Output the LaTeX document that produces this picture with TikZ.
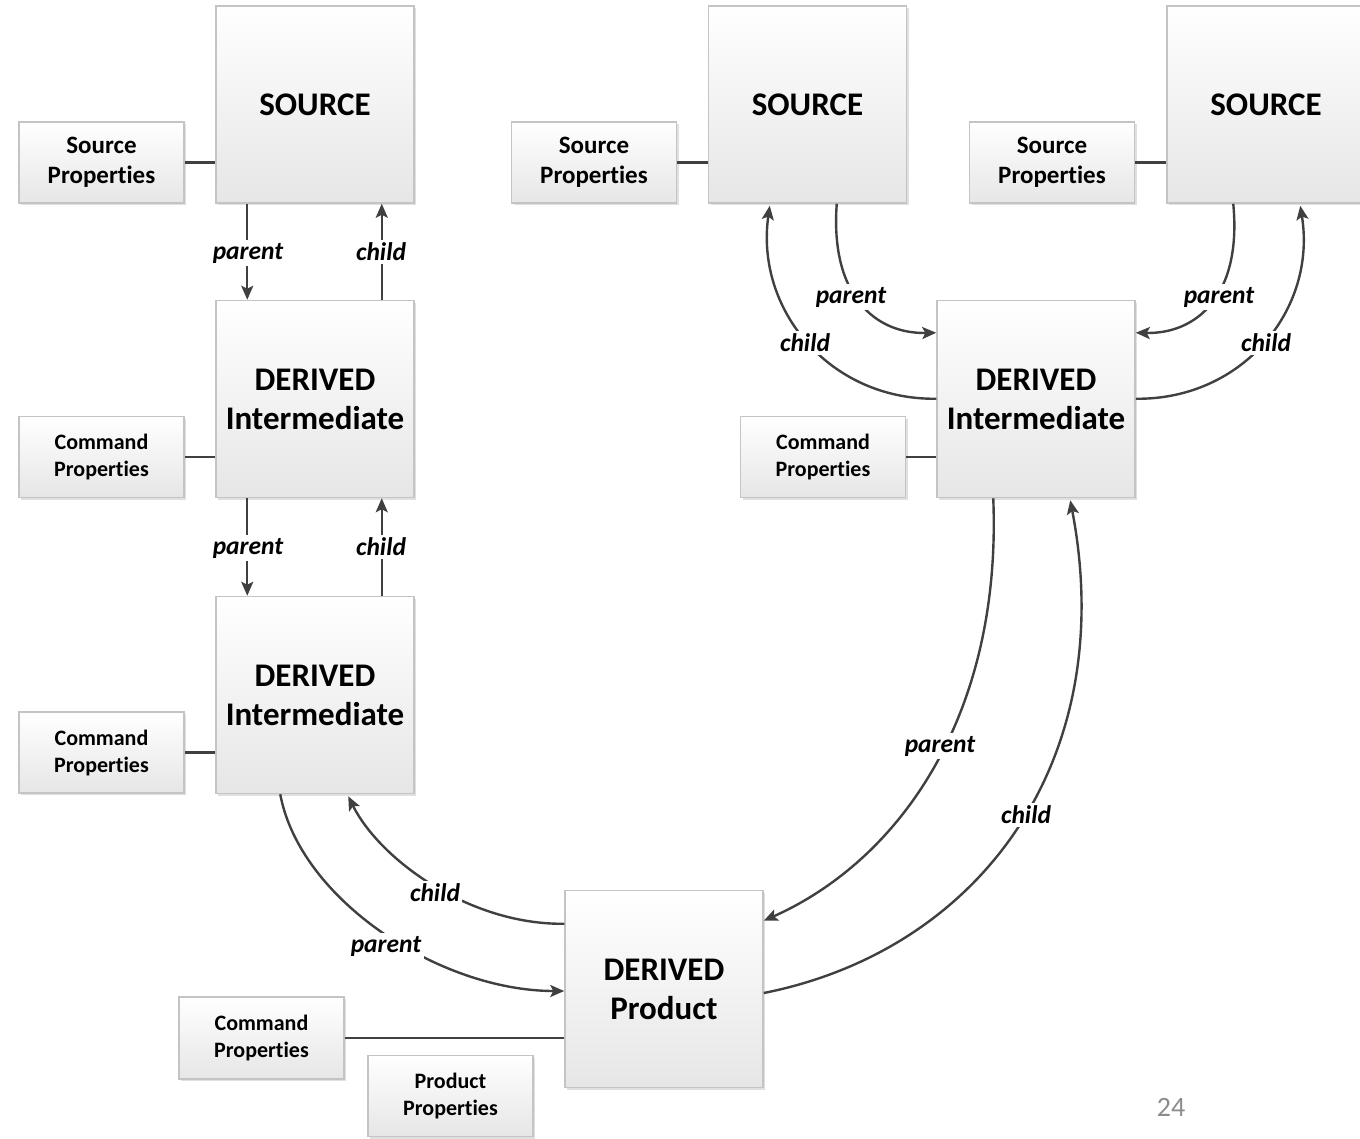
\documentclass[tikz,border=0pt]{standalone}
\usepackage{fontspec}
\setmainfont{Carlito}[Ligatures=NoCommon]
\usetikzlibrary{shadows,arrows.meta,calc}
\definecolor{boxline}{HTML}{C4C4C4}
\definecolor{boxbot}{HTML}{E6E6E6}
\definecolor{lineclr}{HTML}{404040}
\definecolor{pgnum}{HTML}{8C8C8C}
\begin{document}
\begin{tikzpicture}[x=1pt,y=-1pt,
 box/.style={draw=boxline, line width=1.5pt, top color=white, bottom color=boxbot, align=center, inner sep=0pt,
   drop shadow={shadow xshift=2pt,shadow yshift=-2pt,opacity=0.12,fill=black}},
 bigbox/.style={box, minimum width=198pt, minimum height=197pt, font=\fontsize{33}{39}\selectfont\bfseries},
 srcbox/.style={box, minimum width=165pt, minimum height=81pt, font=\fontsize{25}{30}\selectfont\bfseries},
 cmdbox/.style={box, minimum width=165pt, minimum height=81pt, font=\fontsize{22}{27}\selectfont\bfseries},
 link/.style={draw=lineclr, line width=2.4pt},
 arr/.style={link, -{Stealth[length=14pt,width=12pt,inset=3pt]}},
 lbl/.style={fill=white, inner sep=2.5pt, font=\fontsize{25.5}{28}\selectfont\bfseries\itshape}
]
\useasboundingbox (0,0) rectangle (1360,1138);

% left column
\node[bigbox] (s1) at (315,104.5) {SOURCE};
\node[srcbox] (sp1) at (101.5,162.5) {Source\\Properties};
\node[bigbox] (d1) at (315,399) {DERIVED\\Intermediate};
\node[cmdbox] (c1) at (101.5,457) {Command\\Properties};
\node[bigbox] (d2) at (315,695) {DERIVED\\Intermediate};
\node[cmdbox] (c2) at (101.5,752.5) {Command\\Properties};

% middle / right top
\node[bigbox] (s2) at (807.5,104.5) {SOURCE};
\node[srcbox] (sp2) at (594,162.5) {Source\\Properties};
\node[bigbox] (s3) at (1266,104.5) {SOURCE};
\node[srcbox] (sp3) at (1052,162.5) {Source\\Properties};
\node[bigbox] (d3) at (1036,399) {DERIVED\\Intermediate};
\node[cmdbox] (c3) at (823,457) {Command\\Properties};

% product
\node[bigbox] (p) at (664,989) {DERIVED\\Product};
\node[cmdbox, minimum height=82pt] (c4) at (261.5,1038) {Command\\Properties};
\node[cmdbox] (pp) at (450.5,1096) {Product\\Properties};

\node[font=\fontsize{28}{32}\selectfont, text=pgnum] (pg) at (1171,1107) {24};

% property links
\draw[link] (sp1.east) -- (sp1.east -| s1.west);
\draw[link] (c1.east) -- (c1.east -| d1.west);
\draw[link] (c2.east) -- (c2.east -| d2.west);
\draw[link] (sp2.east) -- (sp2.east -| s2.west);
\draw[link] (sp3.east) -- (sp3.east -| s3.west);
\draw[link] (c3.east) -- (c3.east -| d3.west);
\draw[link] (c4.east) -- (c4.east -| p.west);
\draw[link] ($(pp.north east)+(0,16)$) -- ($(pp.north east)+(0,16)$ -| p.west);

% left vertical arrows
\draw[arr] ($(s1.south west)+(32,0)$) -- ($(d1.north west)+(32,0)$);
\draw[arr] ($(d1.north east)+(-33,0)$) -- ($(s1.south east)+(-33,0)$);
\draw[arr] ($(d1.south west)+(32,0)$) -- ($(d2.north west)+(32,0)$);
\draw[arr] ($(d2.north east)+(-33,0)$) -- ($(d1.south east)+(-33,0)$);

% d2 <-> product
\draw[arr] ($(d2.south west)+(65,0)$) .. controls (300,900) and (440,991) .. ($(p.west)+(0,2)$);
\draw[arr] ($(p.north west)+(0,34)$) .. controls (470,925) and (380,860) .. ($(d2.south west)+(133,2)$);

% d3 <-> product
\draw[arr] ($(d3.south west)+(57,0)$) .. controls (1002,715) and (900,860) .. ($(p.north east)+(0,31)$);
\draw[arr] ($(p.east)+(0,4)$) .. controls (980,950) and (1120,760) .. ($(d3.south west)+(134,2)$);

% s2 <-> d3
\draw[arr] ($(s2.south west)+(129,0)$) .. controls (830,295) and (875,334) .. ($(d3.north west)+(0,33)$);
\draw[arr] ($(d3.north west)+(0,99)$) .. controls (830,400) and (755,310) .. ($(s2.south west)+(62,2)$);

% s3 <-> d3
\draw[arr] ($(s3.south west)+(67,0)$) .. controls (1242,295) and (1197,334) .. ($(d3.north east)+(0,33)$);
\draw[arr] ($(d3.north east)+(0,99)$) .. controls (1242,400) and (1317,310) .. ($(s3.south west)+(134,2)$);

% labels
\node[lbl] (l1) at (248,253) {parent};
\node[lbl] (l2) at (381,252) {child};
\node[lbl] (l3) at (248,548) {parent};
\node[lbl] (l4) at (381,547) {child};
\node[lbl] (l5) at (851,297) {parent};
\node[lbl] (l6) at (805,343) {child};
\node[lbl] (l7) at (1219,297) {parent};
\node[lbl] (l8) at (1266,343) {child};
\node[lbl] (l9) at (940,746) {parent};
\node[lbl] (l10) at (1026,815) {child};
\node[lbl] (l11) at (435,893) {child};
\node[lbl] (l12) at (386,946) {parent};
\end{tikzpicture}
\end{document}
